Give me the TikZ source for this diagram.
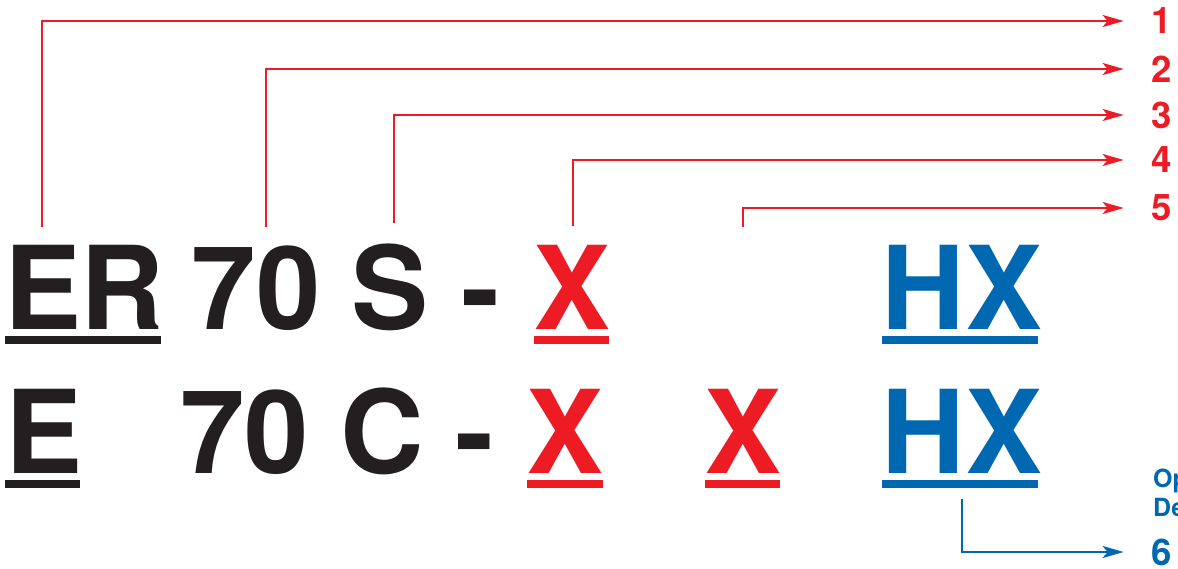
\documentclass[tikz,border=0pt]{standalone}
\usepackage{fontspec}
\newfontfamily\hv{TeX Gyre Heros}
\usetikzlibrary{arrows.meta}
\definecolor{cred}{HTML}{ED1C24}
\definecolor{cblue}{HTML}{0067B1}
\definecolor{cblack}{HTML}{231F20}
\begin{document}
\begin{tikzpicture}[x=1pt,y=-1pt,
  big/.style={font=\hv\bfseries\fontsize{115.6}{120}\selectfont, inner sep=0pt, anchor=base},
  num/.style={font=\hv\bfseries\fontsize{36.6}{40}\selectfont, anchor=center, inner sep=0pt},
  small/.style={font=\hv\bfseries\fontsize{25}{28}\selectfont, text=cblue, anchor=base west, inner sep=0pt},
  conn/.style={line width=2.3pt, shorten >=28pt, -{Stealth[length=21pt,width=12pt,inset=5pt]}},
  redconn/.style={conn, draw=cred},
  blueconn/.style={conn, draw=cblue}]
\path[use as bounding box, clip] (0,0) rectangle (1178,568);
\fill[white] (0,0) rectangle (1178,568);
% row 1
\node[big, text=cblack] (E1) at (43.5,329) {E};
\node[big, text=cblack] (R1) at (122,329) {R};
\node[big, text=cblack] (N1) at (256,329) {70};
\node[big, text=cblack] (S1) at (390.5,329) {S};
\node[big, text=cblack] (D1) at (481,329) {-};
\node[big, text=cred] (X1) at (572,329) {X};
\node[big, text=cblue] (HX1) at (962,329) {HX};
% row 2
\node[big, text=cblack] (E2) at (44,473) {E};
\node[big, text=cblack] (N2) at (244.5,473) {70};
\node[big, text=cblack] (C2) at (382.5,473) {C};
\node[big, text=cblack] (D2) at (474.5,473) {-};
\node[big, text=cred] (X2) at (565.5,473) {X};
\node[big, text=cred] (X3) at (743,473) {X};
\node[big, text=cblue] (HX2) at (962,473) {HX};
% underlines
\fill[cblack] (5,336) rectangle (161,344);
\fill[cred] (534,336) rectangle (609,344);
\fill[cblue] (882,336) rectangle (1038,344);
\fill[cblack] (5,480) rectangle (80,488);
\fill[cred] (527,480) rectangle (603,488);
\fill[cred] (705,480) rectangle (780,488);
\fill[cblue] (882,480) rectangle (1038,488);
% numbers
\node[num, text=cred] (n1) at (1162,21) {1};
\node[num, text=cred] (n2) at (1162,69) {2};
\node[num, text=cred] (n3) at (1162,115) {3};
\node[num, text=cred] (n4) at (1162,160) {4};
\node[num, text=cred] (n5) at (1162,208) {5};
\node[num, text=cblue] (n6) at (1162,552) {6};
\node[small] (op) at (1153,487) {Op};
\node[small] (de) at (1153,516) {De};
% connector starts
\coordinate (c1) at (42,227);
\coordinate (c2) at (266,227);
\coordinate (c3) at (394,223);
\coordinate (c4) at (573,226);
\coordinate (c5) at (743,227);
\coordinate (c6) at (962,499);
\draw[redconn] (c1) |- (n1.west);
\draw[redconn] (c2) |- (n2.west);
\draw[redconn] (c3) |- (n3.west);
\draw[redconn] (c4) |- (n4.west);
\draw[redconn] (c5) |- (n5.west);
\draw[blueconn] (c6) |- (n6.west);
\end{tikzpicture}
\end{document}
